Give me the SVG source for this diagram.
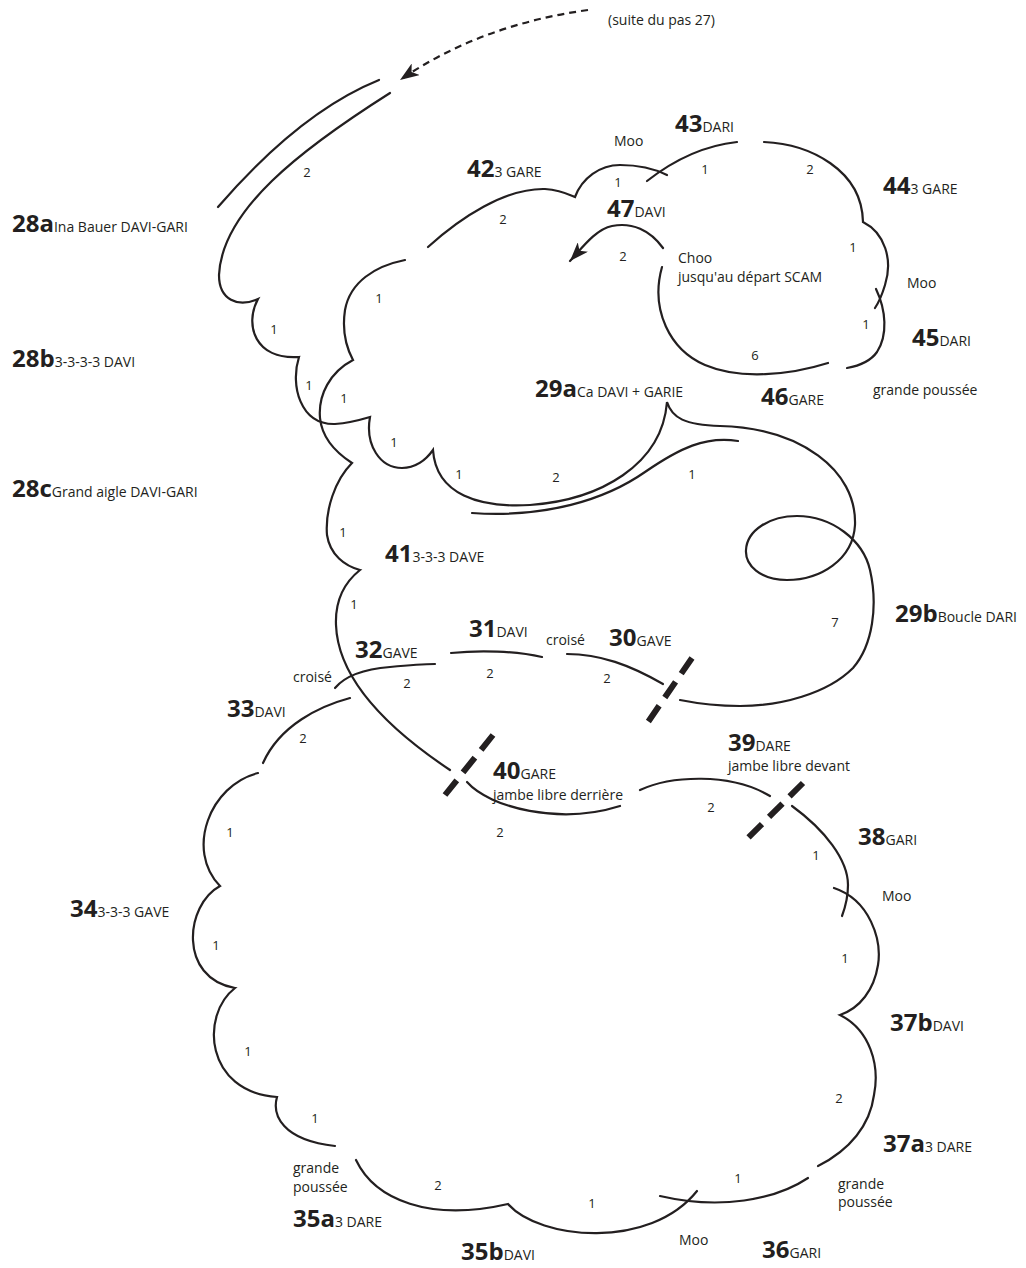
<svg xmlns="http://www.w3.org/2000/svg" width="1026" height="1268" viewBox="0 0 1026 1268">
  <style>
    .edge { fill: none; stroke: #231f20; stroke-width: 2.2; stroke-linecap: round; }
    .dashed { stroke-dasharray: 7 5; stroke-linecap: butt; }
    .hatch { fill: none; stroke: #231f20; stroke-width: 6; stroke-dasharray: 19 10; stroke-linecap: butt; }
    text { font-family: "Open Sans", "Noto Sans", "Liberation Sans", sans-serif; fill: #231f20; font-size: 14px; }
    .n { font-weight: 700; font-size: 24px; }
    .c { font-size: 13px; text-anchor: middle; }
  </style>
  <defs>
    <marker id="head" viewBox="0 0 20 14" refX="19" refY="7" markerWidth="20" markerHeight="14" markerUnits="userSpaceOnUse" orient="auto">
      <path d="M0,0 L19,7 L0,14 L5,7 Z" fill="#231f20" stroke="none"/>
    </marker>
  </defs>

  <rect width="1026" height="1268" fill="#ffffff"/>

  <!-- skating track -->
  <g id="connectors">
    <!-- continuation from step 27 -->
    <path class="edge dashed" d="M588,10 Q480,25 400,80" marker-end="url(#head)"/>
    <!-- 28a Ina Bauer (outer edge) -->
    <path class="edge" d="M379,80 Q300,112 218,207"/>
    <!-- 28a inner edge, 28b scallops, 29a, 29b loop -->
    <path class="edge" d="M390,93 C300,150 222,210 219,275 C219,300 238,308 258,299
      C244,325 255,360 299,357
      C290,385 300,425 335,424 C350,423 360,420 370,417
      C365,445 380,468 402,468 C415,468 426,460 433,450
      C436,495 480,508 530,505 C600,500 662,465 667,402
      C672,418 685,425 720,426 C800,428 857,470 855,525
      C853,560 820,580 787,580 C760,580 745,565 746,550
      C747,530 770,516 797,516 C832,516 863,540 870,570
      C878,605 873,645 853,668 C827,694 780,706 740,706
      C715,706 695,703 680,700"/>
    <!-- 29a second edge -->
    <path class="edge" d="M738,441 C705,436 680,448 645,472 C605,500 545,518 472,513"/>
    <!-- 42 and Moo -->
    <path class="edge" d="M428,247 C460,218 505,188 545,189 C560,190 568,194 575,197
      C582,178 600,165 620,165 C640,165 655,169 667,175"/>
    <!-- 43 -->
    <path class="edge" d="M647,181 C670,163 700,146 737,142"/>
    <!-- 44 and 45 -->
    <path class="edge" d="M764,142 C810,144 862,170 863,222 C885,233 893,260 885,285 C882,295 879,302 875,308"/>
    <path class="edge" d="M876,289 C886,310 888,335 877,352 C870,362 858,366 847,368"/>
    <!-- 46 -->
    <path class="edge" d="M828,363 C790,375 740,380 705,365 C670,350 650,310 662,267"/>
    <!-- 47 -->
    <path class="edge" d="M663,248 C650,230 632,222 612,226 C596,229 582,248 570,261" marker-end="url(#head)"/>
    <!-- 28c / 41 -->
    <path class="edge" d="M405,260 C375,266 350,282 345,310 C342,330 346,347 353,360
      C330,372 318,395 320,418 C322,438 335,452 352,463
      C335,480 325,510 327,535 C330,555 345,566 360,570
      C345,582 335,600 336,625 C338,680 390,730 450,770"/>
    <!-- 32, 31, 30 -->
    <path class="edge" d="M335,688 C345,676 365,669 390,667 C410,665 425,664 435,664"/>
    <path class="edge" d="M451,653 C480,650 515,651 542,657"/>
    <path class="edge" d="M567,654 C600,654 630,665 663,684"/>
    <!-- 33 -->
    <path class="edge" d="M350,698 C320,706 280,725 263,763"/>
    <!-- 34 -->
    <path class="edge" d="M258,773 C210,785 185,850 220,886 C185,905 178,978 235,988
      C200,1015 205,1092 277,1097 C272,1115 282,1140 335,1146"/>
    <!-- 35a, 35b -->
    <path class="edge" d="M356,1160 C375,1200 430,1222 508,1204 C540,1240 650,1250 697,1191"/>
    <!-- 36 -->
    <path class="edge" d="M808,1178 C775,1200 720,1210 660,1196"/>
    <!-- 37a, 37b -->
    <path class="edge" d="M834,888 C870,900 882,940 878,965 C874,990 860,1008 840,1015
      C870,1030 880,1065 874,1095 C870,1125 850,1150 818,1166"/>
    <!-- 38 -->
    <path class="edge" d="M792,806 C825,830 848,860 848,885 C848,898 845,908 842,916"/>
    <!-- 39 -->
    <path class="edge" d="M640,790 C670,776 730,772 770,796"/>
    <!-- 40 -->
    <path class="edge" d="M467,782 C490,808 560,825 620,806"/>
    <!-- change-of-edge marks -->
    <line class="hatch" x1="692" y1="658" x2="648" y2="722"/>
    <line class="hatch" x1="493" y1="735" x2="445" y2="795"/>
    <line class="hatch" x1="803" y1="783" x2="748" y2="838"/>
  </g>

  <!-- step labels -->
  <g id="labels">
    <g id="intro"><text x="608" y="25">(suite du pas 27)</text></g>
    <g id="s28a"><text x="12" y="232"><tspan class="n">28a</tspan>Ina Bauer DAVI-GARI</text></g>
    <g id="s28b"><text x="12" y="367"><tspan class="n">28b</tspan>3-3-3-3 DAVI</text></g>
    <g id="s28c"><text x="12" y="497"><tspan class="n">28c</tspan>Grand aigle DAVI-GARI</text></g>
    <g id="s29a"><text x="535" y="397"><tspan class="n">29a</tspan>Ca DAVI + GARIE</text></g>
    <g id="s29b"><text x="895" y="622"><tspan class="n">29b</tspan>Boucle DARI</text></g>
    <g id="s30"><text x="609" y="646"><tspan class="n">30</tspan>GAVE</text></g>
    <g id="s31"><text x="469" y="637"><tspan class="n">31</tspan>DAVI</text><text x="546" y="645">croisé</text></g>
    <g id="s32"><text x="355" y="658"><tspan class="n">32</tspan>GAVE</text><text x="293" y="682">croisé</text></g>
    <g id="s33"><text x="227" y="717"><tspan class="n">33</tspan>DAVI</text></g>
    <g id="s34"><text x="70" y="917"><tspan class="n">34</tspan>3-3-3 GAVE</text></g>
    <g id="s35a"><text x="293" y="1173">grande</text><text x="293" y="1192">poussée</text><text x="293" y="1227"><tspan class="n">35a</tspan>3 DARE</text></g>
    <g id="s35b"><text x="461" y="1260"><tspan class="n">35b</tspan>DAVI</text></g>
    <g id="s36"><text x="679" y="1245">Moo</text><text x="762" y="1258"><tspan class="n">36</tspan>GARI</text></g>
    <g id="s37a"><text x="883" y="1152"><tspan class="n">37a</tspan>3 DARE</text><text x="838" y="1189">grande</text><text x="838" y="1207">poussée</text></g>
    <g id="s37b"><text x="890" y="1031"><tspan class="n">37b</tspan>DAVI</text></g>
    <g id="s38"><text x="858" y="845"><tspan class="n">38</tspan>GARI</text><text x="882" y="901">Moo</text></g>
    <g id="s39"><text x="728" y="751"><tspan class="n">39</tspan>DARE</text><text x="728" y="771">jambe libre devant</text></g>
    <g id="s40"><text x="493" y="779"><tspan class="n">40</tspan>GARE</text><text x="493" y="800">jambe libre derrière</text></g>
    <g id="s41"><text x="385" y="562"><tspan class="n">41</tspan>3-3-3 DAVE</text></g>
    <g id="s42"><text x="467" y="177"><tspan class="n">42</tspan>3 GARE</text><text x="614" y="146">Moo</text></g>
    <g id="s43"><text x="675" y="132"><tspan class="n">43</tspan>DARI</text></g>
    <g id="s44"><text x="883" y="194"><tspan class="n">44</tspan>3 GARE</text></g>
    <g id="s45"><text x="907" y="288">Moo</text><text x="912" y="346"><tspan class="n">45</tspan>DARI</text></g>
    <g id="s46"><text x="761" y="405"><tspan class="n">46</tspan>GARE</text><text x="873" y="395">grande poussée</text></g>
    <g id="s47"><text x="607" y="217"><tspan class="n">47</tspan>DAVI</text><text x="678" y="263">Choo</text><text x="678" y="282">jusqu'au départ SCAM</text></g>
  </g>

  <!-- beat counts -->
  <g id="counts">
    <text class="c" x="307" y="177">2</text>
    <text class="c" x="705" y="174">1</text>
    <text class="c" x="810" y="174">2</text>
    <text class="c" x="618" y="187">1</text>
    <text class="c" x="503" y="224">2</text>
    <text class="c" x="853" y="252">1</text>
    <text class="c" x="623" y="261">2</text>
    <text class="c" x="379" y="303">1</text>
    <text class="c" x="866" y="329">1</text>
    <text class="c" x="274" y="334">1</text>
    <text class="c" x="755" y="360">6</text>
    <text class="c" x="309" y="390">1</text>
    <text class="c" x="344" y="403">1</text>
    <text class="c" x="394" y="447">1</text>
    <text class="c" x="459" y="479">1</text>
    <text class="c" x="556" y="482">2</text>
    <text class="c" x="692" y="479">1</text>
    <text class="c" x="343" y="537">1</text>
    <text class="c" x="354" y="609">1</text>
    <text class="c" x="835" y="627">7</text>
    <text class="c" x="490" y="678">2</text>
    <text class="c" x="607" y="683">2</text>
    <text class="c" x="407" y="688">2</text>
    <text class="c" x="303" y="743">2</text>
    <text class="c" x="711" y="812">2</text>
    <text class="c" x="500" y="837">2</text>
    <text class="c" x="230" y="837">1</text>
    <text class="c" x="816" y="860">1</text>
    <text class="c" x="216" y="950">1</text>
    <text class="c" x="845" y="963">1</text>
    <text class="c" x="248" y="1056">1</text>
    <text class="c" x="839" y="1103">2</text>
    <text class="c" x="315" y="1123">1</text>
    <text class="c" x="738" y="1183">1</text>
    <text class="c" x="438" y="1190">2</text>
    <text class="c" x="592" y="1208">1</text>
  </g>
</svg>
